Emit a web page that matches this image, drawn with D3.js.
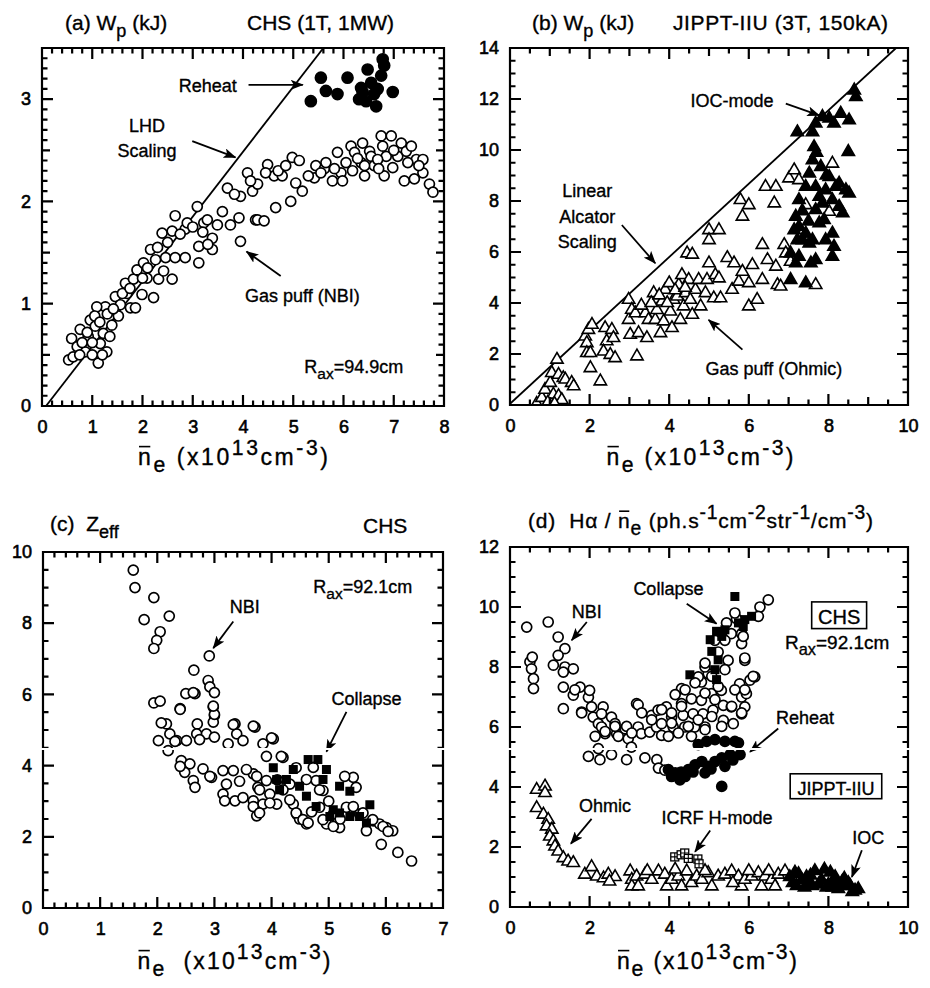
<!DOCTYPE html>
<html>
<head>
<meta charset="utf-8">
<script src="https://cdn.jsdelivr.net/npm/d3@7"></script>
<style>
  body { margin: 0; background: #fff; }
  svg text { font-family: "Liberation Sans", Arial, Helvetica, sans-serif; fill: #000; white-space: pre; }
</style>
</head>
<body>
<div id="chart"></div>
<script>
// (a) CHS stored energy
const aGasPuffNBI = [
  [0.53,0.45],[0.62,0.48],[0.59,0.66],[0.76,0.75],[0.86,0.53],[0.92,0.68],[0.96,0.84],[1.06,0.78],[1.12,0.42],[1.16,0.61],
  [1.22,0.71],[1.29,0.53],[1.26,0.97],[1.09,0.97],[1.39,0.79],[1.46,1.07],[1.52,0.88],[1.56,0.99],[1.66,1.20],[1.69,1.10],
  [1.76,0.96],[1.86,0.96],[1.82,1.24],[1.89,1.33],[1.99,1.09],[2.02,1.40],[2.09,1.25],[2.16,1.53],[2.26,1.43],[2.22,1.06],
  [2.32,1.24],[2.42,1.32],[2.46,1.45],[2.59,1.24],[2.65,1.45],[2.85,1.45],[2.39,1.69],[2.59,1.71],[2.65,1.86],[2.85,1.73],
  [2.89,1.79],[3.09,1.95],[3.12,1.56],[3.12,1.40],[3.22,1.79],[3.29,1.82],[3.39,1.64],[3.39,1.53],[3.49,1.77],[3.59,1.90],
  [3.75,1.77],[3.92,1.84],[3.95,1.61],[3.69,2.13],[3.95,2.05],[4.25,1.82],[0.70,0.58],[0.80,0.62],[0.90,0.72],[1.00,0.62],
  [1.05,0.88],[1.15,0.82],[1.20,0.50],[1.30,0.90],[1.35,0.68],[1.00,0.50],[0.75,0.50],[1.42,0.95],[1.60,1.10],[1.75,1.15],
  [2.00,1.25],[2.10,1.35],[2.30,1.55],[2.50,1.60],[2.75,1.68],[3.00,1.75],[3.20,1.70],[3.30,1.58],[3.83,2.07],
  [4.09,2.28],[4.19,2.10],[4.29,2.17],[4.29,1.82],[4.42,1.81],[4.49,2.36],[4.62,2.25],[4.65,1.94],[4.78,2.25],[4.95,2.00],
  [4.98,2.43],[5.12,2.40],[5.05,2.18],[5.18,2.10],[5.42,2.23],[5.45,2.35],[5.62,2.32],[5.65,2.38],[5.78,2.20],[5.88,2.48],
  [5.95,2.28],[5.98,2.20],[6.15,2.54],[6.18,2.30],[6.22,2.48],[6.35,2.38],[6.38,2.57],[6.42,2.25],[6.52,2.49],[6.55,2.44],
  [6.61,2.35],[6.75,2.64],[6.78,2.54],[6.81,2.25],[6.85,2.44],[6.95,2.64],[6.98,2.33],[7.08,2.44],[7.15,2.57],[7.21,2.20],
  [7.25,2.49],[7.35,2.54],[7.41,2.22],[7.45,2.41],[7.58,2.28],[7.58,2.41],[7.71,2.17],[7.78,2.09],[7.28,2.38],[6.68,2.41],
  [6.42,2.35],[5.82,2.32],[5.30,2.25],[5.55,2.28],[6.05,2.38],[6.28,2.42],[6.70,2.32],[7.00,2.50],[7.50,2.35],[4.70,2.30],
  [4.85,2.35],[4.15,2.20],[4.45,2.28]
];
const aReheat = [
  [5.35,2.98],[5.55,3.21],[5.65,3.08],[5.88,3.05],[6.08,3.21],[6.31,3.00],[6.35,3.11],[6.48,3.29],[6.55,3.16],[6.65,2.93],
  [6.68,3.10],[6.78,3.39],[6.75,3.23],[6.81,3.33],[6.98,3.07],[6.38,3.07],[6.61,3.05],[6.45,2.98]
];
const aLHDScaling = [[0.08,0],[5.6,3.5]];

// (b) JIPPT-IIU stored energy
const bGasPuffOhmic = [
  [0.67,0.05],[0.80,0.28],[1.01,0.15],[1.18,0.05],[0.88,0.60],[1.09,0.41],[1.22,0.35],[1.30,0.20],[1.01,0.87],[1.05,1.26],
  [1.22,1.19],[1.34,1.06],[1.18,1.78],[1.39,1.00],[1.55,0.87],[1.60,0.74],[0.95,0.10],[1.12,0.05],
  [1.89,2.69],[1.93,2.43],[1.97,2.95],[1.93,2.04],[2.02,2.04],[2.02,1.45],[2.06,3.15],[2.27,0.93],[2.39,3.02],[2.43,2.50],
  [2.35,2.10],[2.52,1.97],[2.56,2.95],[2.60,2.63],[2.64,1.84],
  [2.98,4.13],[2.98,3.34],[3.02,2.76],[3.06,3.74],[3.19,1.91],[3.23,2.82],[3.15,3.60],[3.40,3.60],[3.44,2.63],[3.48,3.34],
  [3.61,4.39],[3.65,3.34],[3.69,3.73],[3.78,2.82],[3.82,4.06],[3.86,3.28],[3.90,4.52],[4.00,4.78],[4.03,3.67],[4.07,3.02],
  [4.11,4.13],[4.20,4.26],[4.24,4.71],[4.28,3.34],[4.32,5.10],[4.36,3.87],[4.41,4.39],[4.45,5.95],[4.58,5.90],[4.49,4.91],
  [4.53,4.13],[4.58,3.54],[4.66,4.52],[4.74,4.91],[4.79,3.87],[4.91,4.39],[4.95,4.91],[5.00,5.56],[5.00,6.86],[5.00,6.47],
  [5.12,4.19],[5.16,5.10],[5.25,6.86],[5.25,4.97],[5.29,4.19],[5.46,5.77],[5.58,4.52],[5.63,5.56],[5.75,4.84],[5.79,8.04],
  [5.84,7.39],[5.84,5.23],[6.00,7.84],[6.00,4.78],[6.00,3.87],[6.09,5.49],[6.21,4.13],[6.34,6.28],[6.34,4.91],[6.42,8.56],
  [6.47,5.69],[6.64,7.91],[6.68,8.56],[6.68,5.43],[6.72,4.71],[6.80,4.65],[6.89,6.28],[6.93,5.95],[7.01,8.89],[7.05,5.62],
  [7.14,9.21],[7.26,8.82],[7.35,6.73],[7.68,4.71],[8.10,9.47],[7.43,7.84],[8.02,7.58],[3.30,3.90],[3.55,4.00],[3.75,4.30],
  [4.15,4.50],[4.40,4.60],[3.95,4.00]
];
const bIOCMode = [
  [7.22,10.70],[7.68,11.04],[7.85,11.30],[8.02,11.24],[8.14,11.04],[8.31,11.43],[8.52,11.17],[8.65,12.34],[8.69,12.08],[8.50,9.93],
  [7.60,10.70],[7.64,10.12],[7.60,9.60],[7.52,9.08],[7.43,8.56],[7.26,8.04],[7.18,7.39],[7.14,6.86],[7.22,6.47],[7.05,5.95],
  [7.18,5.56],[7.05,4.91],[7.43,4.78],[7.68,5.69],[7.60,6.47],[7.77,7.13],[7.85,7.91],[8.02,8.95],[8.19,8.56],[8.27,7.78],
  [8.36,7.52],[8.44,8.43],[8.52,8.30],[8.10,6.73],[8.14,6.21],[8.10,5.82],[7.52,6.34],[7.43,6.73],[7.68,7.65],[7.77,8.17],
  [7.93,8.43],[8.10,8.04],[7.68,8.56],[7.81,9.34],[7.35,6.47],[7.26,5.82],[7.56,5.56],[7.89,7.26],[8.27,8.69],[7.26,6.99],
  [7.93,6.47],[7.35,7.60],[7.50,7.20],[7.95,9.00],[7.70,9.90]
];
const bAlcatorScaling = [[0,0.05],[9.7,14]];

// (c) CHS Zeff
const cNBI = [
  [1.58,9.49],[1.61,9.00],[1.94,8.72],[1.77,8.10],[2.21,8.20],[2.05,7.76],[1.99,7.52],[1.94,7.29],[2.91,7.08],[2.64,6.68],
  [2.89,6.39],[2.92,6.21],[3.00,6.05],[2.50,6.02],[2.66,6.02],[1.94,5.76],[2.05,5.81],[2.40,5.60],[2.98,5.64],[3.00,5.41],
  [2.98,5.22],[2.70,5.17],[2.16,5.17],[2.22,4.89],[2.02,4.70],[2.34,4.70],[2.51,4.70],[2.69,4.89],[2.86,4.89],[3.00,4.80],
  [3.36,5.17],[3.39,4.89],[3.50,4.70],[3.71,5.08],[3.85,4.61],[4.03,4.75],[3.24,4.61],[2.19,4.42],[2.42,4.14],[2.57,4.05],
  [2.48,3.81],[2.63,3.58],[2.66,3.39],[2.80,3.91],[2.95,3.67],[3.15,3.86],[3.21,3.48],[3.15,3.20],[3.18,3.01],[3.36,3.01],
  [3.33,3.86],[3.68,3.77],[3.68,3.01],[3.74,2.59],[3.85,2.92],[3.76,3.39],[3.91,3.58],[3.97,3.20],[4.09,2.92],[4.20,4.23],
  [4.32,3.48],[4.38,2.92],[4.44,2.64],[4.49,2.50],[4.61,2.36],[4.73,3.95],[4.78,3.58],[4.90,3.30],[4.84,2.83],[4.96,2.36],
  [5.08,2.64],[5.19,2.26],[5.31,2.83],[5.43,3.67],[5.48,3.39],[5.54,2.64],[5.66,2.17],[5.78,2.45],[5.89,2.36],[6.01,2.26],
  [6.12,2.17],[5.92,1.79],[6.21,1.56],[6.45,1.32],[2.40,5.58],[2.07,5.20],[2.31,4.68],[2.74,4.73],[2.40,3.98],[2.92,3.70],
  [3.44,3.56],[3.56,3.89],[3.74,3.70],[3.79,3.32],[3.68,2.85],[3.79,2.67],[3.97,2.95],[3.91,4.26],[4.17,4.26],[4.20,3.32],
  [4.32,3.04],[4.43,2.67],[4.55,2.48],[4.64,2.39],[4.43,3.94],[4.61,3.61],[4.84,3.32],[4.90,2.48],[5.08,2.29],[5.28,3.70],
  [5.43,2.85],[5.60,2.67],[5.77,2.48],[5.95,2.29],[6.04,2.15],[4.00,4.78],[3.68,5.11],[3.33,5.15],[3.00,5.44],[2.98,5.67],
  [2.63,6.05],[5.00,3.00],[5.20,2.50],[4.70,2.70],[3.50,3.10],[4.10,3.60]
];
const cCollapse = [
  [4.03,3.94],[4.26,3.61],[4.49,3.42],[4.64,4.17],[4.81,4.17],[4.96,3.89],[5.19,3.42],[5.37,3.28],[5.72,2.90],[4.14,3.32],
  [4.61,3.14],[4.78,2.85],[5.02,2.57],[5.19,2.67],[5.37,2.57],[5.54,2.57],[5.66,2.39],[4.09,3.61],[4.38,3.89],[5.08,2.76],
  [4.90,3.61]
];

// (d) H-alpha / ne
const dNBI = [
  [0.42,9.33],[0.50,8.17],[0.56,8.33],[0.54,7.94],[0.59,7.61],[0.59,7.28],[0.96,9.50],[1.21,9.00],[1.38,8.61],[1.21,8.39],
  [1.09,8.06],[1.38,8.00],[1.59,7.94],[1.34,7.83],[1.34,7.33],[1.34,6.61],[1.76,7.33],[1.59,7.06],[1.97,6.99],[2.00,7.22],
  [1.80,6.50],[2.05,6.67],[2.09,6.33],[2.22,6.11],[2.34,6.67],[2.30,6.44],[2.55,6.33],[2.64,6.11],[2.68,5.78],[2.39,5.78],
  [2.30,6.00],[2.89,5.94],[2.97,5.61],[3.18,6.78],[3.22,6.00],[3.30,5.78],[3.51,5.83],[3.56,6.39],[3.68,6.00],[3.72,6.56],
  [3.81,6.11],[3.81,5.72],[3.93,6.67],[4.06,6.33],[4.10,6.00],[4.31,7.28],[4.31,6.78],[4.35,6.39],[4.39,6.00],[4.56,6.94],
  [4.60,6.44],[4.64,6.00],[4.81,7.50],[4.81,6.89],[4.85,6.44],[4.90,6.00],[4.98,7.78],[5.06,7.11],[5.10,6.56],[5.31,7.22],
  [5.36,6.72],[5.36,6.22],[5.48,8.22],[5.56,6.67],[5.61,6.11],[5.56,9.11],[5.40,8.89],[5.69,9.61],[5.82,9.11],[5.82,8.78],
  [5.90,8.22],[5.77,7.44],[5.82,7.00],[5.82,6.44],[5.94,7.11],[6.03,7.56],[6.15,7.67],[5.90,6.67],[6.28,10.00],[6.49,10.24],
  [5.15,8.89],[5.23,8.50],[4.90,8.00],[4.73,7.67],[1.97,5.02],[2.26,4.91],[2.55,5.08],[2.93,4.91],[3.39,4.97],[3.69,4.91],
  [3.73,4.63],[3.89,4.56],[2.22,5.28],[3.05,5.33],[2.39,5.85],[2.64,6.02],[2.93,6.02],[3.22,6.74],[3.31,6.47],[3.06,5.80],
  [2.72,5.69],[2.14,5.69],[1.80,6.47],[1.63,7.24],[3.56,6.24],[3.81,6.58],[4.06,6.13],[4.31,6.69],[4.40,7.24],[4.65,7.47],
  [4.90,8.13],[5.07,7.69],[4.90,7.13],[5.15,6.91],[5.07,6.35],[4.73,6.24],[4.48,6.02],[4.23,5.80],[3.98,5.69],[4.56,5.69],
  [4.90,5.91],[5.32,6.02],[5.57,6.69],[5.82,6.47],[5.65,7.24],[5.90,7.24],[6.11,7.69],[5.90,8.30],[5.86,9.02],[6.24,9.69],
  [5.65,9.80],[5.44,9.47],[5.40,7.91],[5.23,7.35],[4.15,7.08],[4.06,6.47]
];
const dCollapse = [
  [5.65,10.35],[5.19,9.19],[5.32,9.02],[5.07,8.52],[5.15,7.91],[4.52,7.74],[5.23,8.24],[5.74,9.47],[5.90,9.58],[6.07,9.69],
  [5.86,9.35],[5.40,9.24],[5.03,8.91],[5.19,7.58]
];
const dReheat = [
  [3.98,4.58],[4.15,4.47],[4.27,4.24],[4.48,4.58],[4.65,4.74],[4.82,4.85],[4.98,4.69],[5.15,4.85],[5.32,4.97],[5.53,5.08],
  [5.78,5.08],[5.32,4.02],[4.94,5.52],[5.15,5.58],[5.40,5.52],[5.65,5.52],[5.74,5.47],[4.73,5.41],[4.06,4.35],[4.40,4.35],
  [4.90,4.47],[5.40,4.69],[4.30,4.50],[4.60,4.50],[5.05,4.60],[5.60,4.90]
];
const dOhmic = [
  [0.67,3.91],[0.88,4.02],[0.67,3.30],[0.88,3.80],[0.84,3.08],[0.96,2.91],[0.92,2.69],[1.05,2.58],[1.00,2.35],[1.09,2.19],
  [1.13,2.02],[1.21,1.85],[1.34,1.63],[1.46,1.52],[1.59,1.47],
  [1.88,1.08],[2.05,1.33],[2.18,1.02],[2.35,0.96],[2.47,1.08],[2.64,1.00],[3.02,1.19],[3.06,0.91],[3.06,0.69],[3.18,1.02],
  [3.22,0.69],[3.39,1.08],[3.56,0.91],[3.73,1.19],[3.89,1.08],[3.94,0.69],[4.06,0.91],[4.23,1.02],[4.31,0.69],[4.44,1.19],
  [4.56,0.80],[4.69,1.02],[4.82,0.91],[4.98,1.13],[5.07,0.69],[5.23,1.02],[5.40,1.08],[5.57,1.19],[5.74,1.02],[5.82,0.69],
  [5.90,0.91],[6.07,1.02],[6.24,1.13],[6.32,0.69],[6.41,1.02],[6.57,0.91],[6.66,0.69],[6.74,1.08],[6.91,1.19],[2.50,0.85],
  [3.45,1.20],[4.15,1.25],[4.90,1.20],[5.60,0.80],[6.00,1.20],[6.50,1.20]
];
const dIOC = [
  [7.03,1.00],[7.16,1.15],[7.33,0.90],[7.50,0.80],[7.66,1.20],[7.83,0.90],[8.00,0.75],[8.17,1.00],[8.33,0.70],[8.50,0.80],
  [8.67,0.55],[8.75,0.60],[7.25,1.10],[7.60,0.70],[7.90,1.25],[8.10,0.65],[8.40,0.95],[7.40,0.65],[7.75,0.75],[8.25,0.60],
  [8.55,0.70],[7.10,0.80],[7.45,1.00],[8.05,1.15],[8.60,0.50],[7.20,0.70],[7.55,1.05],[7.95,0.65],[8.35,0.85],[8.15,0.85]
];
const dICRFHmode = [[4.14,1.67],[4.30,1.74],[4.39,1.80],[4.48,1.62],[4.72,1.60],[4.75,1.44]];

const neTitle = [['n','over'],['e','sub'],[' (x10'],['13','sup'],['cm'],['-3','sup'],[')']];

const svg = d3.select('#chart').append('svg')
  .attr('width', 930).attr('height', 988)
  .style('background', '#fff');

svg.append('defs').append('marker')
  .attr('id', 'ah').attr('viewBox', '0 0 13 10')
  .attr('refX', 12).attr('refY', 5)
  .attr('markerWidth', 13).attr('markerHeight', 10)
  .attr('markerUnits', 'userSpaceOnUse').attr('orient', 'auto')
  .append('path').attr('d', 'M0,0L13,5L0,10L3,5Z').attr('fill', '#000');

let clipId = 0;
function makePanel(box, xDom, yDom) {
  const x = d3.scaleLinear().domain(xDom).range([box.left, box.right]);
  const y = d3.scaleLinear().domain(yDom).range([box.bottom, box.top]);
  const g = svg.append('g');
  const id = 'clip' + (clipId++);
  svg.select('defs').append('clipPath').attr('id', id)
    .append('rect').attr('x', box.left).attr('y', box.top)
    .attr('width', box.right - box.left).attr('height', box.bottom - box.top);
  const plot = g.append('g').attr('clip-path', `url(#${id})`);
  return { x, y, g, plot, box };
}

// frame plus inward ticks on all four sides, as one path; labels bottom and left
function drawAxes(p) {
  const { x, y, g, box, xt, yt } = p;
  const path = d3.path();
  path.rect(box.left, box.top, box.right - box.left, box.bottom - box.top);
  const levels = t => [[t.minor, 5.5], [t.mid || [], 8], [t.major, 11]];
  levels(xt).forEach(([vals, len]) => vals.forEach(v => {
    path.moveTo(x(v), box.bottom); path.lineTo(x(v), box.bottom - len);
    path.moveTo(x(v), box.top); path.lineTo(x(v), box.top + len);
  }));
  levels(yt).forEach(([vals, len]) => vals.forEach(v => {
    path.moveTo(box.left, y(v)); path.lineTo(box.left + len, y(v));
    path.moveTo(box.right, y(v)); path.lineTo(box.right - len, y(v));
  }));
  g.append('path').attr('d', path.toString())
    .attr('fill', 'none').attr('stroke', '#000').attr('stroke-width', 2.2);
  const style = s => {
    s.select('.domain').remove();
    s.selectAll('text').attr('font-size', 18).attr('stroke', '#000').attr('stroke-width', 0.6);
  };
  g.append('g').attr('transform', `translate(0,${box.bottom})`)
    .call(d3.axisBottom(x).tickValues(xt.major).tickSize(0).tickPadding(14).tickFormat(d3.format('d')))
    .call(style);
  g.append('g').attr('transform', `translate(${box.left},0)`)
    .call(d3.axisLeft(y).tickValues(yt.major).tickSize(0).tickPadding(11).tickFormat(d3.format('d')))
    .call(style);
}

function rich(g, x, y, parts, size, anchor, width, supScale) {
  const ss = supScale || 0.86;
  const t = g.append('text').attr('x', x).attr('y', y)
    .attr('font-size', size).attr('text-anchor', anchor || 'start')
    .attr('stroke', '#000').attr('stroke-width', 0.35);
  if (width) t.attr('textLength', width).attr('lengthAdjust', 'spacing');
  let shift = 0, idx = 0;
  const overs = [];
  parts.forEach(([s, kind]) => {
    const target = kind === 'sub' ? size * 0.32 : kind === 'sup' ? -size * 0.42 : 0;
    t.append('tspan').attr('dy', target - shift)
      .attr('font-size', kind === 'sub' || kind === 'sup' ? size * ss : size).text(s);
    if (kind === 'over') overs.push(idx);
    shift = target;
    idx += s.length;
  });
  const node = t.node();
  overs.forEach(i => {
    const e = node.getExtentOfChar(i);
    g.append('line').attr('x1', e.x + 1).attr('x2', e.x + e.width - 0.5)
      .attr('y1', y - size * 0.8).attr('y2', y - size * 0.8)
      .attr('stroke', '#000').attr('stroke-width', 1.6);
  });
  return t;
}

function note(p, vx, vy, txt, anchor, size) {
  return p.g.append('text').attr('x', p.x(vx)).attr('y', p.y(vy))
    .attr('font-size', size || 18).attr('text-anchor', anchor || 'middle')
    .attr('stroke', '#000').attr('stroke-width', 0.35).text(txt);
}

function arrow(p, x1, y1, x2, y2) {
  p.g.append('line')
    .attr('x1', p.x(x1)).attr('y1', p.y(y1)).attr('x2', p.x(x2)).attr('y2', p.y(y2))
    .attr('stroke', '#000').attr('stroke-width', 1.8).attr('marker-end', 'url(#ah)');
}

function boxNote(p, x1, y1, x2, y2) {
  p.g.append('rect').attr('x', p.x(x1)).attr('y', p.y(y1))
    .attr('width', p.x(x2) - p.x(x1)).attr('height', p.y(y2) - p.y(y1))
    .attr('fill', '#fff').attr('stroke', '#000').attr('stroke-width', 1.6);
}

function circles(p, data, filled, r) {
  p.plot.append('g').selectAll('circle').data(data).join('circle')
    .attr('cx', d => p.x(d[0])).attr('cy', d => p.y(d[1])).attr('r', r)
    .attr('fill', filled ? '#000' : '#fff').attr('stroke', '#000').attr('stroke-width', 1.7);
}

function triangles(p, data, filled) {
  const sym = d3.symbol().type(d3.symbolTriangle).size(66);
  p.plot.append('g').selectAll('path').data(data).join('path')
    .attr('transform', d => `translate(${p.x(d[0])},${p.y(d[1])})`)
    .attr('d', sym)
    .attr('fill', filled ? '#000' : '#fff').attr('stroke', '#000')
    .attr('stroke-width', 1.6).attr('stroke-linejoin', 'miter');
}

function squares(p, data, s) {
  p.plot.append('g').selectAll('rect').data(data).join('rect')
    .attr('x', d => p.x(d[0]) - s / 2).attr('y', d => p.y(d[1]) - s / 2)
    .attr('width', s).attr('height', s).attr('fill', '#000');
}

function plusSquares(p, data, s) {
  const g = p.plot.append('g').selectAll('g').data(data).join('g')
    .attr('transform', d => `translate(${p.x(d[0])},${p.y(d[1])})`);
  g.append('rect').attr('x', -s / 2).attr('y', -s / 2).attr('width', s).attr('height', s)
    .attr('fill', '#fff').attr('stroke', '#000').attr('stroke-width', 1.3);
  g.append('path').attr('d', `M${-s / 2},0H${s / 2}M0,${-s / 2}V${s / 2}`)
    .attr('stroke', '#000').attr('stroke-width', 1.1);
}

function refLine(p, pts) {
  p.plot.append('path').datum(pts)
    .attr('d', d3.line().x(d => p.x(d[0])).y(d => p.y(d[1])))
    .attr('fill', 'none').attr('stroke', '#000').attr('stroke-width', 1.8);
}

// ---- (a)
const pa = makePanel({ left: 42, top: 48, right: 444, bottom: 406 }, [0, 8], [0, 3.5]);
pa.xt = { major: d3.range(0, 8.01, 1), minor: d3.range(0, 8.01, 0.2) };
pa.yt = { major: d3.range(0, 3.51, 1), mid: d3.range(0, 3.51, 0.5), minor: d3.range(0, 3.51, 0.1) };
refLine(pa, aLHDScaling);
circles(pa, aGasPuffNBI, false, 5);
circles(pa, aReheat, true, 5.5);
drawAxes(pa);
rich(pa.g, 65, 30, [['(a) W'], ['p', 'sub'], [' (kJ)']], 21);
rich(pa.g, 247, 30, [['CHS (1T, 1MW)']], 21);
note(pa, 3.30, 3.07, 'Reheat');
arrow(pa, 4.11, 3.14, 5.19, 3.14);
note(pa, 2.09, 2.68, 'LHD');
note(pa, 2.09, 2.43, 'Scaling');
arrow(pa, 2.99, 2.59, 3.85, 2.43);
note(pa, 5.18, 1.02, 'Gas puff (NBI)');
arrow(pa, 4.75, 1.27, 4.07, 1.51);
rich(pa.g, pa.x(5.22), pa.y(0.32), [['R'], ['ax', 'sub'], ['=94.9cm']], 18);
rich(pa.g, 233, 465, neTitle, 23, 'middle', 190, 0.92);

// ---- (b)
const pb = makePanel({ left: 510, top: 48, right: 908, bottom: 405 }, [0, 10], [0, 14]);
pb.xt = { major: d3.range(0, 10.01, 2), mid: d3.range(0, 10.01, 1), minor: d3.range(0, 10.01, 0.5) };
pb.yt = { major: d3.range(0, 14.01, 2), minor: d3.range(0, 14.01, 0.5) };
refLine(pb, bAlcatorScaling);
triangles(pb, bGasPuffOhmic, false);
triangles(pb, bIOCMode, true);
drawAxes(pb);
rich(pb.g, 532, 30, [['(b) W'], ['p', 'sub'], [' (kJ)']], 21);
rich(pb.g, 673, 30, [['JIPPT-IIU (3T, 150kA)']], 21, 'start', 215);
note(pb, 1.94, 8.17, 'Linear');
note(pb, 1.94, 7.15, 'Alcator');
note(pb, 1.94, 6.15, 'Scaling');
arrow(pb, 2.81, 7.06, 3.65, 5.56);
note(pb, 5.58, 11.69, 'IOC-mode');
arrow(pb, 6.93, 11.82, 7.77, 11.36);
note(pb, 6.63, 1.19, 'Gas puff (Ohmic)');
arrow(pb, 5.84, 2.17, 4.99, 3.34);
rich(pb.g, 700, 465, neTitle, 23, 'middle', 187, 0.92);

// ---- (c)
const pc = makePanel({ left: 43, top: 552, right: 443, bottom: 908 }, [0, 7], [0, 10]);
pc.xt = { major: d3.range(0, 7.01, 1), minor: d3.range(0, 7.01, 0.2) };
pc.yt = { major: d3.range(0, 10.01, 2), minor: d3.range(0, 10.01, 0.5) };
circles(pc, cNBI, false, 5);
squares(pc, cCollapse, 9);
drawAxes(pc);
rich(pc.g, 50, 531, [['(c)  Z'], ['eff', 'sub']], 21);
rich(pc.g, 363, 533, [['CHS']], 21);
rich(pc.g, pc.x(4.73), pc.y(8.85), [['R'], ['ax', 'sub'], ['=92.1cm']], 18);
note(pc, 3.53, 8.28, 'NBI');
arrow(pc, 3.33, 8.05, 2.98, 7.3);
note(pc, 5.66, 5.7, 'Collapse');
arrow(pc, 5.31, 5.51, 4.96, 4.39);
rich(pc.g, 234, 969, [['n', 'over'], ['e', 'sub'], ['  (x10'], ['13', 'sup'], ['cm'], ['-3', 'sup'], [')']], 23, 'middle', 193, 0.92);

// ---- (d)
const pd = makePanel({ left: 510, top: 547, right: 908, bottom: 907 }, [0, 10], [0, 12]);
pd.xt = { major: d3.range(0, 10.01, 2), minor: d3.range(0, 10.01, 0.5) };
pd.yt = { major: d3.range(0, 12.01, 2), minor: d3.range(0, 12.01, 0.5) };
circles(pd, dNBI, false, 5);
circles(pd, dReheat, true, 5);
squares(pd, dCollapse, 9);
triangles(pd, dOhmic, false);
triangles(pd, dIOC, true);
plusSquares(pd, dICRFHmode, 8);
drawAxes(pd);
rich(pd.g, 528, 528, [['(d)  H\u03b1 / '], ['n', 'over'], ['e', 'sub'], [' (ph.s'], ['-1', 'sup'], ['cm'], ['-2', 'sup'],
  ['str'], ['-1', 'sup'], ['/cm'], ['-3', 'sup'], [')']], 21, 'start', 345, 0.92);
note(pd, 1.93, 9.64, 'NBI');
arrow(pd, 1.93, 9.5, 1.55, 8.89);
note(pd, 3.98, 10.39, 'Collapse');
arrow(pd, 4.44, 10.11, 5.19, 9.44);
boxNote(pd, 7.58, 10.17, 8.96, 9.28);
note(pd, 8.27, 9.44, 'CHS', 'middle', 20);
rich(pd.g, pd.x(6.91), pd.y(8.61), [['R'], ['ax', 'sub'], ['=92.1cm']], 19);
note(pd, 7.41, 6.11, 'Reheat');
arrow(pd, 6.74, 5.95, 6.03, 5.17);
boxNote(pd, 7.04, 4.44, 9.34, 3.61);
note(pd, 8.19, 3.72, 'JIPPT-IIU');
note(pd, 2.39, 3.17, 'Ohmic');
arrow(pd, 2.05, 2.94, 1.53, 2.11);
note(pd, 5.2, 2.78, 'ICRF H-mode');
arrow(pd, 5.03, 2.55, 4.65, 1.84);
note(pd, 9.0, 2.11, 'IOC');
arrow(pd, 8.84, 1.89, 8.59, 1.0);
rich(pd.g, 707, 969, neTitle, 23, 'middle', 180, 0.92);

// scan artefact: thin white gap across the lower panels
svg.append('rect').attr('x', 30).attr('y', 748).attr('width', 888).attr('height', 2).attr('fill', '#fff');
</script>
</body>
</html>
